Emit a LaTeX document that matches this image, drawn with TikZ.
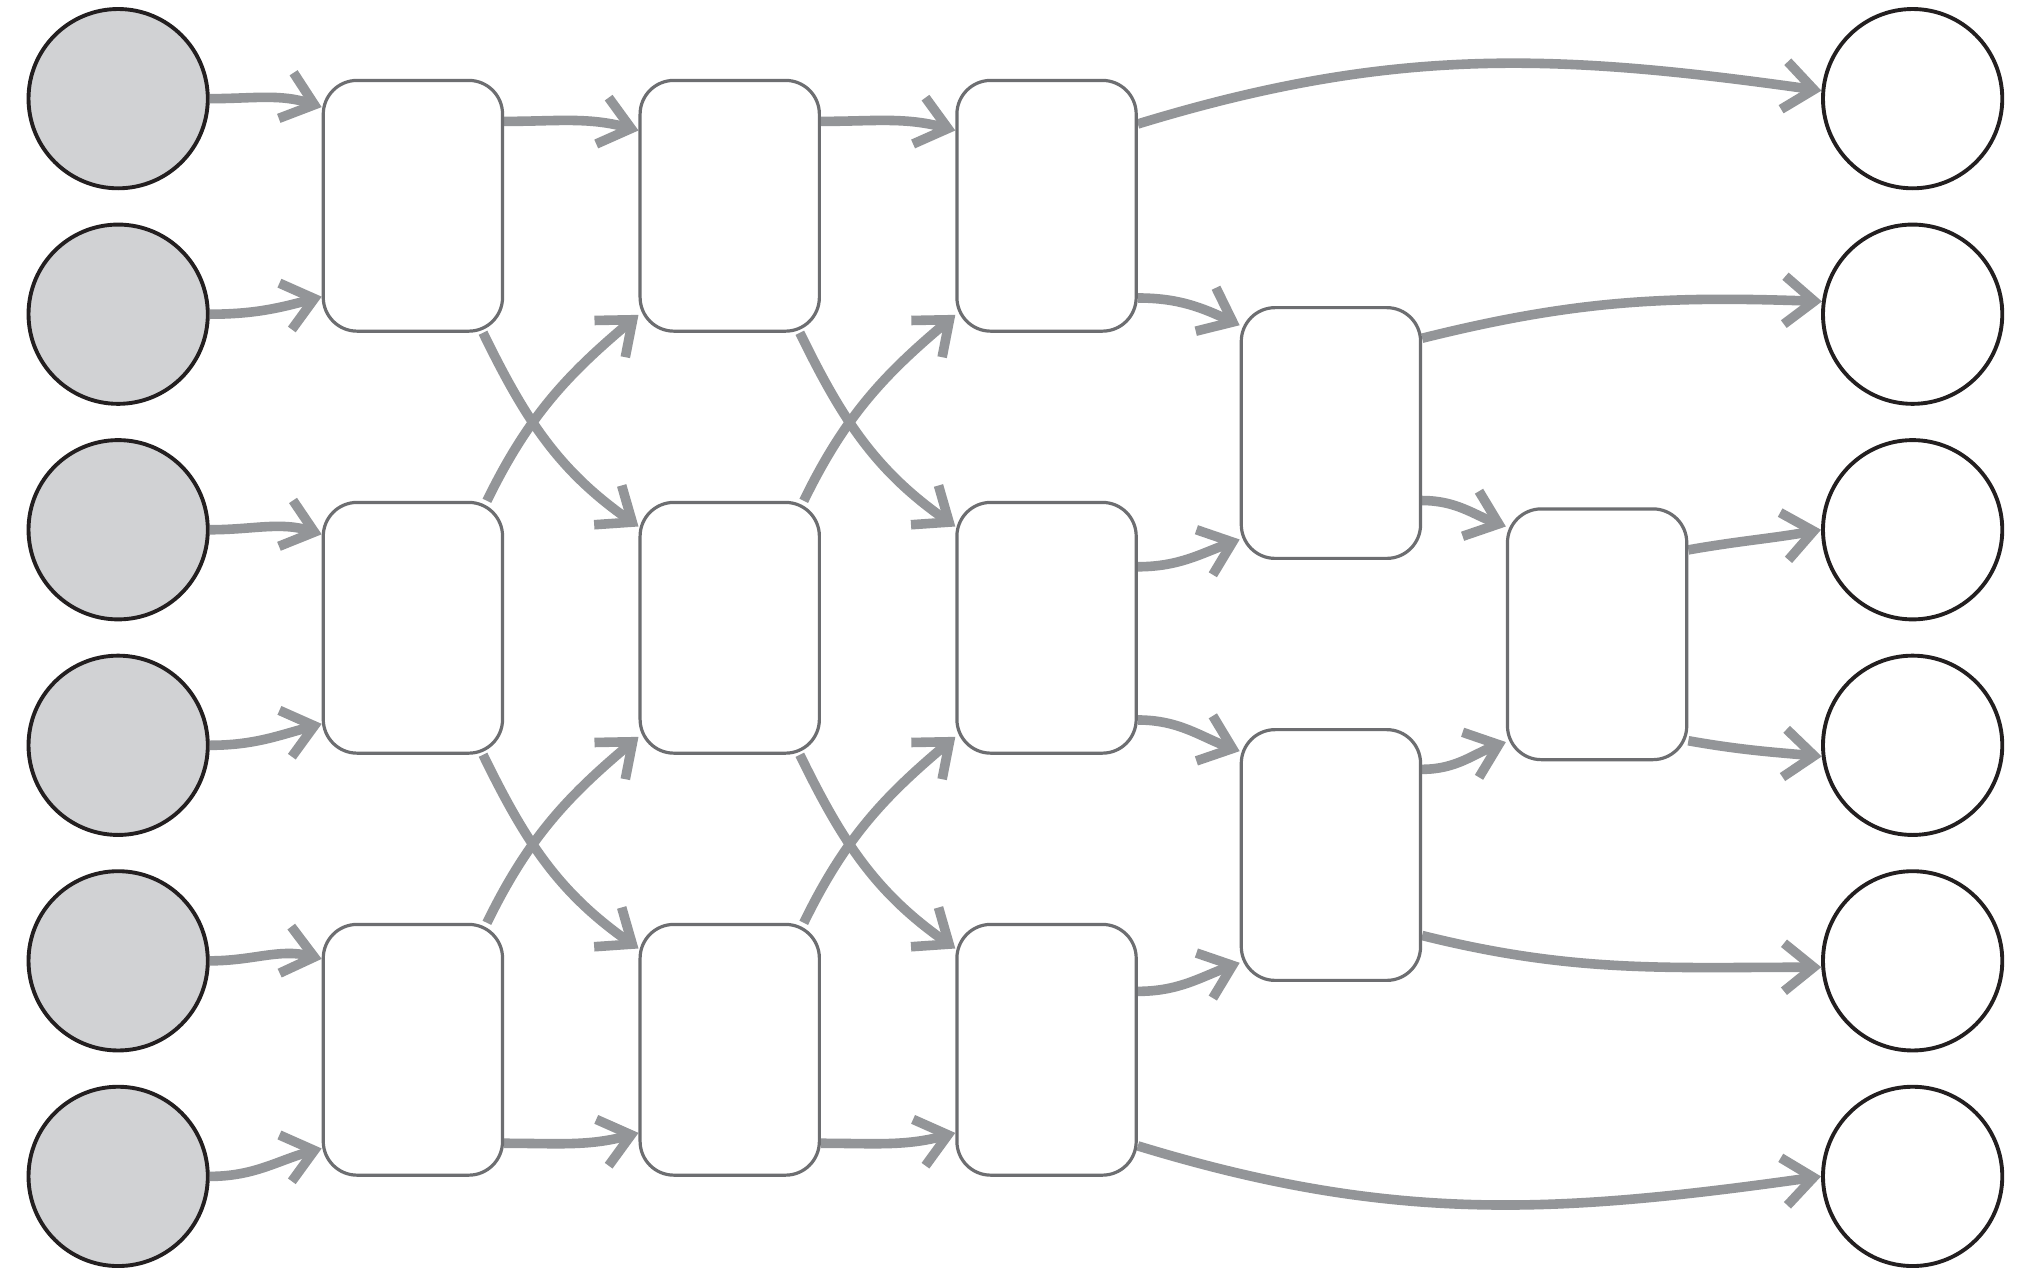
\documentclass[tikz,border=0pt]{standalone}
\usetikzlibrary{arrows.meta,calc,backgrounds}
\definecolor{infill}{RGB}{209,210,212}
\definecolor{cline}{RGB}{35,31,32}
\definecolor{bline}{RGB}{109,110,113}
\definecolor{agray}{RGB}{147,149,152}
\begin{document}
\begin{tikzpicture}[x=0.01cm,y=0.01cm,
  incirc/.style={circle,minimum size=1.38cm,inner sep=0pt,draw=cline,line width=0.85pt,fill=infill},
  outcirc/.style={incirc,fill=white},
  unit/.style={rectangle,rounded corners=0.26cm,minimum width=1.38cm,minimum height=1.93cm,draw=bline,line width=0.7pt,fill=white,inner sep=0pt},
  conn/.style={draw=agray,line width=2.1pt,-{Straight Barb[length=6.5pt,width=10.5pt,line cap=butt,line join=miter]}}]
\useasboundingbox (0,0) rectangle (1568,979);
% inputs
\node[incirc] (L1) at (91,903) {};
\node[incirc] (L2) at (91,737) {};
\node[incirc] (L3) at (91,571) {};
\node[incirc] (L4) at (91,405) {};
\node[incirc] (L5) at (91,239) {};
\node[incirc] (L6) at (91,73) {};
% outputs
\node[outcirc] (R1) at (1473,903) {};
\node[outcirc] (R2) at (1473,737) {};
\node[outcirc] (R3) at (1473,571) {};
\node[outcirc] (R4) at (1473,405) {};
\node[outcirc] (R5) at (1473,239) {};
\node[outcirc] (R6) at (1473,73) {};
% units
\node[unit] (A1) at (318,820.5) {};
\node[unit] (A2) at (318,495.5) {};
\node[unit] (A3) at (318,170.5) {};
\node[unit] (B1) at (562,820.5) {};
\node[unit] (B2) at (562,495.5) {};
\node[unit] (B3) at (562,170.5) {};
\node[unit] (C1) at (806,820.5) {};
\node[unit] (C2) at (806,495.5) {};
\node[unit] (C3) at (806,170.5) {};
\node[unit] (D1) at (1025,645.5) {};
\node[unit] (D2) at (1025,320.5) {};
\node[unit] (E1) at (1230,490.5) {};
\begin{scope}[on background layer]
\fill[white] (0,0) rectangle (1568,979);
% inputs to first column
\draw[conn] (L1.east) to[out=0,in=162] ($(A1.west)+(0,76)$);
\draw[conn] (L2.east) to[out=0,in=195] ($(A1.west)+(0,-70)$);
\draw[conn] (L3.east) to[out=0,in=163] ($(A2.west)+(0,72)$);
\draw[conn] (L4.east) to[out=0,in=195] ($(A2.west)+(0,-74)$);
\draw[conn] (L5.east) to[out=0,in=166] ($(A3.west)+(0,70)$);
\draw[conn] (L6.east) to[out=0,in=195] ($(A3.west)+(0,-76)$);
% first to second column
\draw[conn] ($(A1.east)+(0,65)$) to[out=0,in=165] ($(B1.west)+(0,58)$);
\draw[conn] ($(A1.south)+(54,0)$) to[out=-64,in=145] ($(B2.west)+(0,78)$);
\draw[conn] ($(A2.north)+(57,0)$) to[out=64,in=220] ($(B1.west)+(0,-84)$);
\draw[conn] ($(A2.south)+(54,0)$) to[out=-64,in=145] ($(B3.west)+(0,78)$);
\draw[conn] ($(A3.north)+(57,0)$) to[out=64,in=220] ($(B2.west)+(0,-84)$);
\draw[conn] ($(A3.east)+(0,-72)$) to[out=0,in=195] ($(B3.west)+(0,-64)$);
% second to third column
\draw[conn] ($(B1.east)+(0,65)$) to[out=0,in=165] ($(C1.west)+(0,58)$);
\draw[conn] ($(B1.south)+(54,0)$) to[out=-64,in=145] ($(C2.west)+(0,78)$);
\draw[conn] ($(B2.north)+(57,0)$) to[out=64,in=220] ($(C1.west)+(0,-84)$);
\draw[conn] ($(B2.south)+(54,0)$) to[out=-64,in=145] ($(C3.west)+(0,78)$);
\draw[conn] ($(B3.north)+(57,0)$) to[out=64,in=220] ($(C2.west)+(0,-84)$);
\draw[conn] ($(B3.east)+(0,-72)$) to[out=0,in=195] ($(C3.west)+(0,-64)$);
% third column onwards
\draw[conn] ($(C1.east)+(0,63)$) to[out=17,in=172] (R1.175);
\draw[conn] ($(C1.east)+(0,-71)$) to[out=0,in=155] ($(D1.west)+(0,83)$);
\draw[conn] ($(C2.east)+(0,47)$) to[out=0,in=200] ($(D1.west)+(0,-82)$);
\draw[conn] ($(C2.east)+(0,-71)$) to[out=0,in=160] ($(D2.west)+(0,80)$);
\draw[conn] ($(C3.east)+(0,45)$) to[out=0,in=200] ($(D2.west)+(0,-83)$);
\draw[conn] ($(C3.east)+(0,-74)$) to[out=-17,in=188] (R6.west);
\draw[conn] ($(D1.east)+(0,73)$) to[out=14,in=178] (R2.172);
\draw[conn] ($(D1.east)+(0,-52)$) to[out=0,in=160] ($(E1.west)+(0,83)$);
\draw[conn] ($(D2.east)+(0,66)$) to[out=0,in=200] ($(E1.west)+(0,-83)$);
\draw[conn] ($(D2.east)+(0,-62)$) to[out=-14,in=180] (R5.184);
\draw[conn] ($(E1.east)+(0,65)$) to[out=10,in=190] (R3.west);
\draw[conn] ($(E1.east)+(0,-82)$) to[out=-10,in=175] (R4.187);
\end{scope}
\end{tikzpicture}
\end{document}
